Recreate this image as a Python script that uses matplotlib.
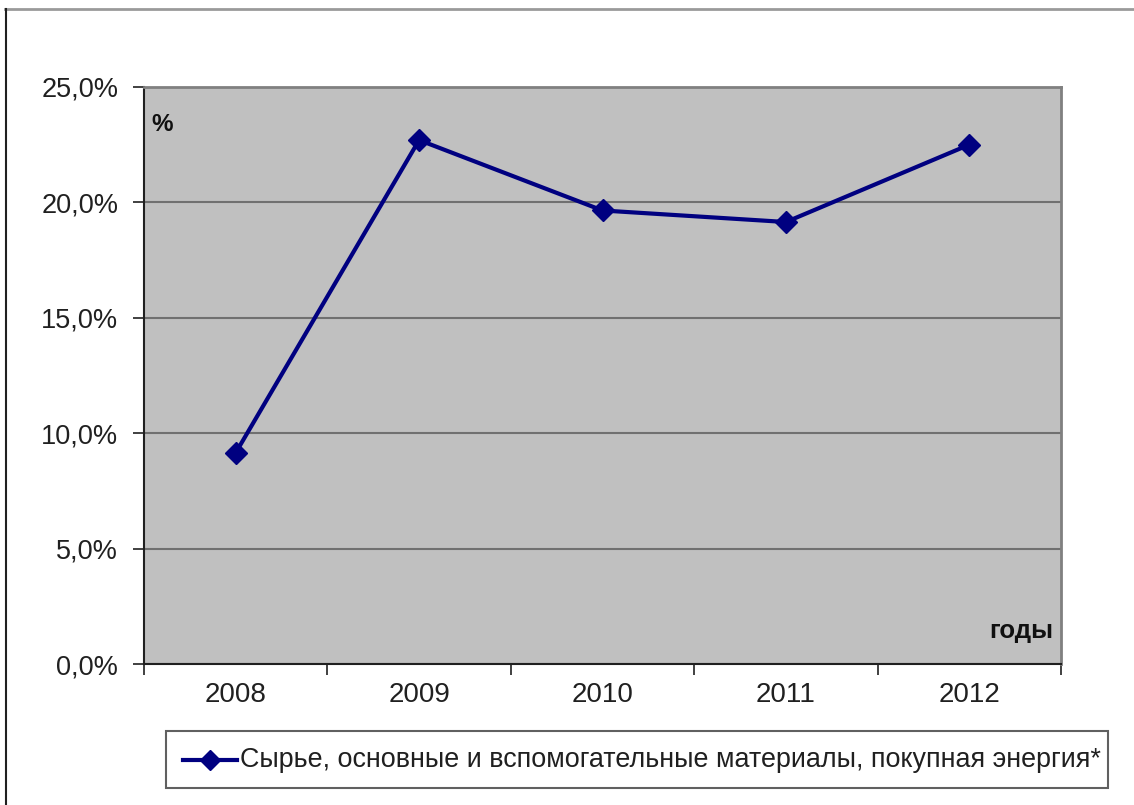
import matplotlib.pyplot as plt
from matplotlib.lines import Line2D
from matplotlib.patches import Rectangle
from matplotlib.ticker import FuncFormatter, FixedLocator

years = ["2008", "2009", "2010", "2011", "2012"]
share = [9.15, 22.7, 19.65, 19.15, 22.5]
series_name = "Сырье, основные и вспомогательные материалы, покупная энергия*"

plt.rcParams['font.family'] = ['Liberation Sans', 'DejaVu Sans']

W, H = 1134, 805
fig = plt.figure(figsize=(W / 100, H / 100), dpi=100)

# chart frame (top and left edges visible, rest runs off the sheet)
fig.add_artist(Line2D([5 / W, 1.0], [1 - 9.5 / H, 1 - 9.5 / H],
                      color='#9a9a9a', lw=2.0, transform=fig.transFigure))
fig.add_artist(Line2D([5.5 / W, 5.5 / W], [0, 1 - 9.5 / H],
                      color='#202020', lw=1.5, transform=fig.transFigure))

left, right, top, bottom = 144, 1061, 87, 664
ax = fig.add_axes([left / W, 1 - bottom / H, (right - left) / W, (bottom - top) / H])
ax.set_facecolor('#c0c0c0')

x = list(range(len(years)))
ax.plot(x, share, color='#000080', lw=3, marker='D', markersize=11,
        markerfacecolor='#000080', markeredgecolor='#000080', zorder=3)

ax.set_xlim(-0.5, len(years) - 0.5)
ax.set_ylim(0, 25)
ax.set_yticks([0, 5, 10, 15, 20, 25])
ax.yaxis.set_major_formatter(FuncFormatter(lambda v, p: f"{v:.1f}%".replace('.', ',')))
ax.grid(axis='y', color='#707070', lw=1.5)
ax.set_axisbelow(True)

# year labels centred in categories, ticks on category boundaries
ax.xaxis.set_major_locator(FixedLocator([i - 0.5 for i in range(len(years) + 1)]))
ax.xaxis.set_minor_locator(FixedLocator(x))
ax.set_xticklabels([])
ax.set_xticklabels(years, minor=True)
ax.tick_params(axis='x', which='major', length=8, width=1.2, color='#202020', direction='out')
ax.tick_params(axis='x', which='minor', length=0, pad=13, labelsize=20, labelcolor='#202020')
ax.tick_params(axis='y', length=8, width=1.2, color='#202020', direction='out',
               pad=10.5, labelsize=19.5, labelcolor='#202020')

for s in ('left', 'bottom'):
    ax.spines[s].set_color('#202020')
    ax.spines[s].set_linewidth(1.5)
for s in ('top', 'right'):
    ax.spines[s].set_color('#808080')
    ax.spines[s].set_linewidth(2)

ax.text(0.008, 0.935, "%", transform=ax.transAxes, fontsize=17.5, fontweight='bold',
        ha='left', va='center', color='#101010')
ax.text(0.992, 0.058, "годы", transform=ax.transAxes, fontsize=18.5, fontweight='bold',
        ha='right', va='center', color='#101010')

# legend box
lx0, lx1, ly0, ly1 = 166, 1108, 731, 788
fig.add_artist(Rectangle((lx0 / W, 1 - ly1 / H), (lx1 - lx0) / W, (ly1 - ly0) / H,
                         transform=fig.transFigure, facecolor='white',
                         edgecolor='#606060', lw=1.5))
ly = 1 - (ly0 + ly1) / 2 / H
fig.add_artist(Line2D([183 / W, 237 / W], [ly, ly], color='#000080', lw=3,
                      transform=fig.transFigure))
fig.add_artist(Line2D([210 / W], [ly], color='#000080', marker='D', markersize=10,
                      transform=fig.transFigure))
fig.text(240 / W, ly, series_name, fontsize=19.4, ha='left', va='center', color='#202020')

fig.savefig('out.png', dpi=100)
